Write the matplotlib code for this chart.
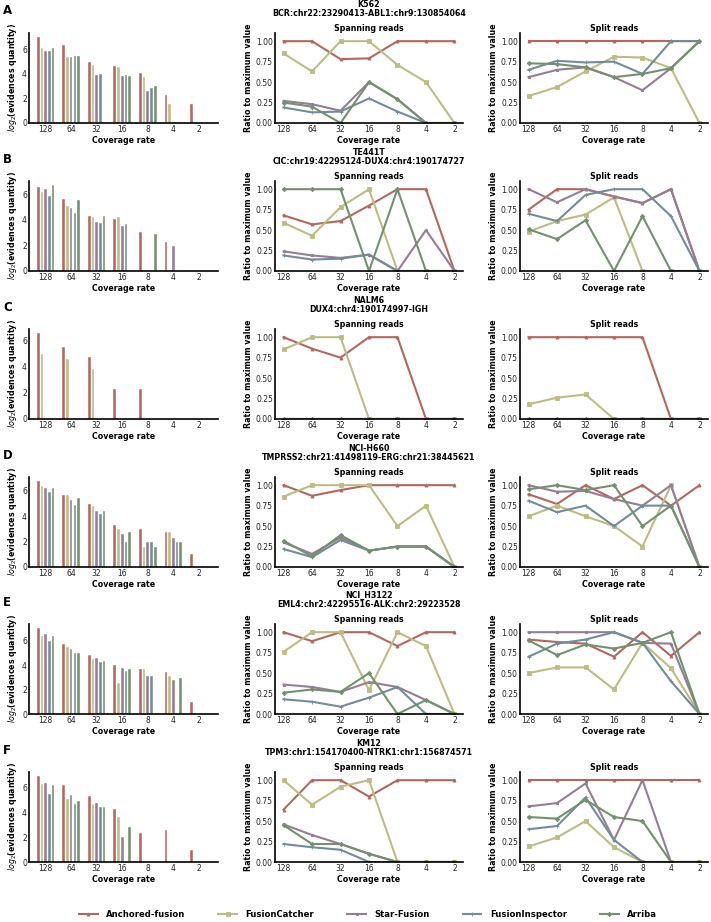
import matplotlib
matplotlib.use("Agg")
import matplotlib.pyplot as plt
import numpy as np

plt.rcParams['font.family'] = ['DejaVu Sans']

W, H = 711, 922
coverage = ["128", "64", "32", "16", "8", "4", "2"]
tools = ["Anchored-fusion", "FusionCatcher", "Star-Fusion", "FusionInspector", "Arriba"]
colors = ["#B2685F", "#BEBC82", "#967D96", "#738C9B", "#73916E"]
markers = ["^", "s", "*", "+", "D"]

panel_letters = ["A", "B", "C", "D", "E", "F"]
cell_lines = ["K562", "TE441T", "NALM6", "NCI-H660", "NCI_H3122", "KM12"]
fusions = ["BCR:chr22:23290413-ABL1:chr9:130854064",
           "CIC:chr19:42295124-DUX4:chr4:190174727",
           "DUX4:chr4:190174997-IGH",
           "TMPRSS2:chr21:41498119-ERG:chr21:38445621",
           "EML4:chr2:42295516-ALK:chr2:29223528",
           "TPM3:chr1:154170400-NTRK1:chr1:156874571"]

# log2(evidences quantity): rows = tools, cols = coverage (0 = no bar)
bars_A = [[6.97, 6.36, 4.96, 4.63, 4.10, 2.31, 1.57],
          [6.06, 5.37, 4.74, 4.55, 3.72, 1.57, 0],
          [5.84, 5.34, 3.91, 3.80, 2.59, 0, 0],
          [5.87, 5.45, 3.99, 3.91, 2.84, 0, 0],
          [6.06, 5.43, 0, 3.80, 3.00, 0, 0]]
bars_B = [[6.58, 5.62, 4.32, 4.08, 3.08, 2.25, 0],
          [6.18, 5.07, 4.19, 4.24, 0, 0, 0],
          [6.39, 4.96, 3.82, 3.53, 0, 1.94, 0],
          [5.89, 4.51, 3.74, 3.66, 0, 0, 0],
          [6.71, 5.52, 4.32, 0, 2.92, 0, 0]]
bars_C = [[6.51, 5.50, 4.73, 2.27, 2.27, 0, 0],
          [4.91, 4.52, 3.80, 0, 0, 0, 0],
          [0, 0, 0, 0, 0, 0, 0],
          [0, 0, 0, 0, 0, 0, 0],
          [0, 0, 0, 0, 0, 0, 0]]
bars_D = [[6.74, 5.65, 4.99, 3.32, 2.97, 2.76, 1.0],
          [6.40, 5.70, 4.77, 3.00, 1.56, 2.76, 0],
          [6.21, 5.30, 4.38, 2.60, 1.99, 2.28, 0],
          [5.86, 4.88, 4.14, 1.99, 1.99, 1.99, 0],
          [6.18, 5.41, 4.43, 2.79, 1.56, 1.99, 0]]
bars_E = [[7.04, 5.73, 4.83, 4.05, 3.69, 3.41, 1.0],
          [6.40, 5.50, 4.53, 2.57, 3.69, 3.13, 0],
          [6.59, 5.36, 4.58, 3.80, 3.13, 2.79, 0],
          [6.00, 5.00, 4.30, 3.55, 3.13, 0, 0],
          [6.42, 5.00, 4.36, 3.69, 0, 2.99, 0]]
bars_F = [[6.90, 6.19, 5.29, 4.27, 2.30, 2.60, 1.0],
          [6.25, 5.07, 4.68, 3.62, 0, 0, 0],
          [6.38, 5.37, 4.74, 2.03, 0, 0, 0],
          [5.48, 4.63, 4.41, 0, 0, 0, 0],
          [6.19, 4.90, 4.41, 2.82, 0, 0, 0]]

# Ratio to maximum value, spanning reads
span_A = [[1.0, 1.0, 0.78, 0.79, 1.0, 1.0, 1.0],
          [0.85, 0.63, 1.0, 1.0, 0.71, 0.50, 0.0],
          [0.27, 0.23, 0.15, 0.50, 0.29, 0.0, 0.0],
          [0.19, 0.13, 0.14, 0.30, 0.14, 0.0, 0.0],
          [0.25, 0.20, 0.0, 0.50, 0.29, 0.0, 0.0]]
span_B = [[0.68, 0.57, 0.61, 0.80, 1.0, 1.0, 0.0],
          [0.59, 0.43, 0.78, 1.0, 0.0, 0.0, 0.0],
          [0.24, 0.19, 0.16, 0.20, 0.0, 0.50, 0.0],
          [0.19, 0.14, 0.15, 0.20, 0.0, 0.0, 0.0],
          [1.0, 1.0, 1.0, 0.0, 1.0, 0.0, 0.0]]
span_C = [[1.0, 0.86, 0.75, 1.0, 1.0, 0.0, 0.0],
          [0.85, 1.0, 1.0, 0.0, 0.0, 0.0, 0.0],
          [0, 0, 0, 0, 0, 0, 0],
          [0, 0, 0, 0, 0, 0, 0],
          [0, 0, 0, 0, 0, 0, 0]]
span_D = [[1.0, 0.87, 0.94, 1.0, 1.0, 1.0, 1.0],
          [0.86, 1.0, 1.0, 1.0, 0.50, 0.75, 0.0],
          [0.30, 0.16, 0.36, 0.20, 0.25, 0.25, 0.0],
          [0.22, 0.12, 0.33, 0.20, 0.25, 0.25, 0.0],
          [0.32, 0.13, 0.39, 0.20, 0.25, 0.25, 0.0]]
span_E = [[1.0, 0.89, 1.0, 1.0, 0.83, 1.0, 1.0],
          [0.76, 1.0, 1.0, 0.29, 1.0, 0.83, 0.0],
          [0.36, 0.33, 0.27, 0.39, 0.33, 0.17, 0.0],
          [0.18, 0.15, 0.09, 0.20, 0.33, 0.0, 0.0],
          [0.26, 0.30, 0.27, 0.50, 0.0, 0.17, 0.0]]
span_F = [[0.64, 1.0, 1.0, 0.80, 1.0, 1.0, 1.0],
          [1.0, 0.70, 0.92, 1.0, 0.0, 0.0, 0.0],
          [0.46, 0.33, 0.22, 0.10, 0.0, 0.0, 0.0],
          [0.22, 0.18, 0.15, 0.0, 0.0, 0.0, 0.0],
          [0.45, 0.22, 0.22, 0.10, 0.0, 0.0, 0.0]]

# Ratio to maximum value, split reads
split_A = [[1.0, 1.0, 1.0, 1.0, 1.0, 1.0, 1.0],
           [0.33, 0.44, 0.63, 0.81, 0.80, 0.67, 0.0],
           [0.56, 0.65, 0.68, 0.56, 0.40, 0.67, 1.0],
           [0.65, 0.76, 0.74, 0.75, 0.60, 1.0, 1.0],
           [0.73, 0.72, 0.68, 0.56, 0.60, 0.67, 1.0]]
split_B = [[0.75, 1.0, 1.0, 0.91, 0.83, 1.0, 0.0],
           [0.48, 0.61, 0.69, 0.90, 0.0, 0.0, 0.0],
           [1.0, 0.84, 1.0, 0.91, 0.83, 1.0, 0.0],
           [0.70, 0.61, 0.93, 1.0, 1.0, 0.67, 0.0],
           [0.51, 0.39, 0.62, 0.0, 0.67, 0.0, 0.0]]
split_C = [[1.0, 1.0, 1.0, 1.0, 1.0, 0.0, 0.0],
           [0.18, 0.26, 0.30, 0.0, 0.0, 0.0, 0.0],
           [0, 0, 0, 0, 0, 0, 0],
           [0, 0, 0, 0, 0, 0, 0],
           [0, 0, 0, 0, 0, 0, 0]]
split_D = [[0.89, 0.77, 1.0, 0.83, 1.0, 0.75, 1.0],
           [0.62, 0.75, 0.62, 0.50, 0.25, 1.0, 0.0],
           [1.0, 0.92, 0.93, 0.83, 0.75, 1.0, 0.0],
           [0.81, 0.67, 0.75, 0.50, 0.75, 0.75, 0.0],
           [0.95, 1.0, 0.94, 1.0, 0.50, 0.75, 0.0]]
split_E = [[0.91, 0.88, 0.86, 0.70, 1.0, 0.71, 1.0],
           [0.50, 0.57, 0.57, 0.30, 0.87, 0.56, 0.0],
           [1.0, 1.0, 1.0, 1.0, 0.87, 0.86, 0.0],
           [0.70, 0.86, 0.91, 1.0, 0.87, 0.40, 0.0],
           [0.90, 0.72, 0.85, 0.80, 0.87, 1.0, 0.0]]
split_F = [[1.0, 1.0, 1.0, 1.0, 1.0, 1.0, 1.0],
           [0.19, 0.30, 0.50, 0.18, 0.0, 0.0, 0.0],
           [0.68, 0.72, 0.96, 0.27, 1.0, 0.0, 0.0],
           [0.40, 0.44, 0.79, 0.27, 0.0, 0.0, 0.0],
           [0.55, 0.53, 0.76, 0.55, 0.50, 0.0, 0.0]]

bars_all = [bars_A, bars_B, bars_C, bars_D, bars_E, bars_F]
span_all = [span_A, span_B, span_C, span_D, span_E, span_F]
split_all = [split_A, split_B, split_C, split_D, split_E, split_F]

fig = plt.figure(figsize=(W / 100, H / 100), dpi=100)

def px_axes(x0, top, w, h):
    return fig.add_axes([x0 / W, 1 - (top + h) / H, w / W, h / H])

row_tops = [33, 181, 329, 477, 624, 772]
AH = 90
FS_TICK = 5.5
FS_LAB = 5.7

def style(ax):
    for s in ["top", "right"]:
        ax.spines[s].set_visible(False)
    for s in ["left", "bottom"]:
        ax.spines[s].set_linewidth(1.2)
        ax.spines[s].set_color("black")
    ax.tick_params(length=0, pad=1.5, labelsize=FS_TICK, colors="#222222")
    ax.set_xlabel("Coverage rate", fontsize=FS_LAB, fontweight="bold", labelpad=1.5)

x = np.arange(len(coverage))
for r in range(6):
    top = row_tops[r]
    # bar panel
    ax = px_axes(29, top, 189, AH)
    for i in range(5):
        vals = np.array(bars_all[r][i], dtype=float)
        ax.bar(x + (i - 2) * 0.145, vals, width=0.105, color=colors[i],
               edgecolor="white", linewidth=0.3)
    ax.set_xlim(-0.65, 6.75)
    ax.set_ylim(0, None)
    ax.margins(y=0.05)
    ax.set_xticks(x)
    ax.set_xticklabels(coverage)
    ax.set_yticks([0, 2, 4, 6])
    style(ax)
    ax.set_ylabel("$log_2$(evidences quantity)", fontsize=FS_LAB, fontweight="bold", labelpad=2)
    fig.text(3 / W, 1 - (top - 22) / H, panel_letters[r], fontsize=8.5, fontweight="bold",
             va="center", ha="left")

    for k, (data, ttl, x0) in enumerate([(span_all[r], "Spanning reads", 275),
                                         (split_all[r], "Split reads", 520)]):
        ax = px_axes(x0, top, 188, AH)
        for i in range(5):
            ax.plot(x, data[i], color=colors[i], lw=1.5, marker=markers[i], ms=2.2,
                    mew=0.6, label=tools[i])
        ax.set_xlim(-0.3, 6.3)
        ax.set_ylim(0, 1.1)
        ax.set_xticks(x)
        ax.set_xticklabels(coverage)
        ax.set_yticks([0, 0.25, 0.5, 0.75, 1.0])
        ax.set_yticklabels(["0.00", "0.25", "0.50", "0.75", "1.00"])
        style(ax)
        ax.set_ylabel("Ratio to maximum value", fontsize=FS_LAB, fontweight="bold", labelpad=2)
        ax.set_title(ttl, fontsize=FS_LAB, fontweight="bold", pad=1.5)
        if k == 0:
            ax.text(0.5, 1.0 + 24 / AH, cell_lines[r] + "\n" + fusions[r],
                    transform=ax.transAxes, ha="center", va="center",
                    fontsize=FS_LAB, fontweight="bold", linespacing=1.1)
        if r == 5 and k == 0:
            handles, labels = ax.get_legend_handles_labels()

fig.legend(handles, labels, loc="center", bbox_to_anchor=(368 / W, 1 - 914 / H), ncol=5,
           frameon=False, prop={"weight": "bold", "size": 6.1}, handlelength=2.2,
           columnspacing=3.9, handletextpad=1.0)

fig.savefig("out.png", dpi=100)
